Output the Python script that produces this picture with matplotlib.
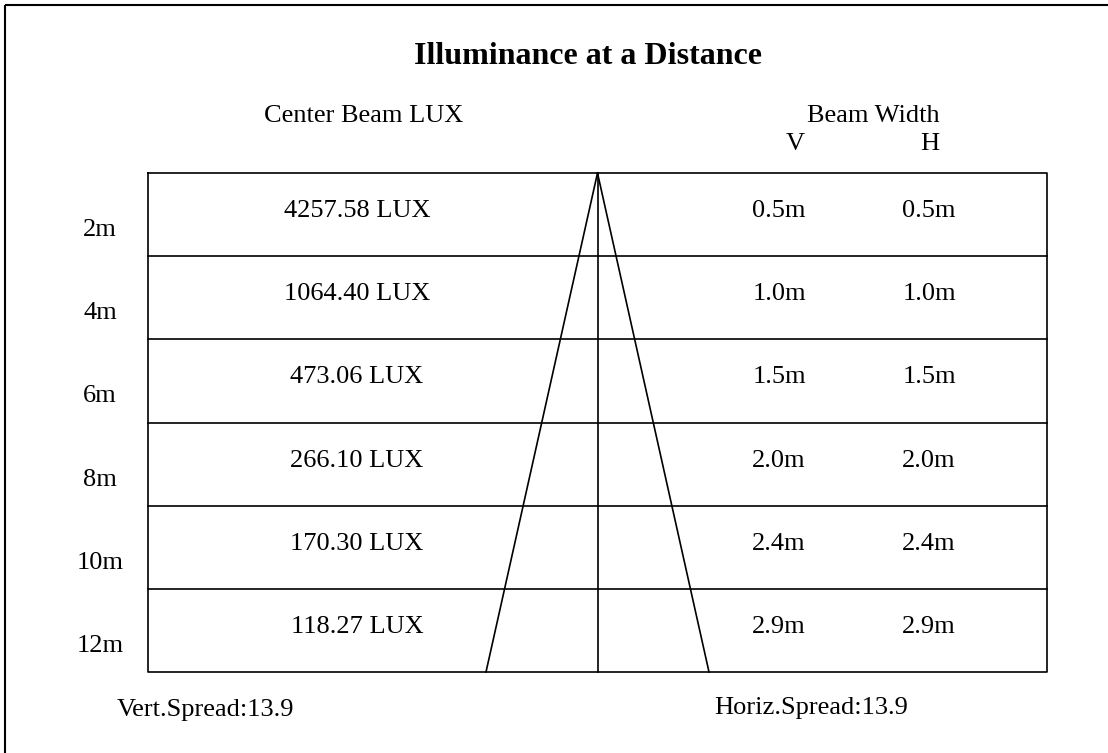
import matplotlib
matplotlib.use("Agg")
import matplotlib.pyplot as plt

# ---- data ----
title = "Illuminance at a Distance"
distances = ["2m", "4m", "6m", "8m", "10m", "12m"]
lux = [4257.58, 1064.40, 473.06, 266.10, 170.30, 118.27]
width_v = [0.5, 1.0, 1.5, 2.0, 2.4, 2.9]
width_h = [0.5, 1.0, 1.5, 2.0, 2.4, 2.9]
vert_spread = 13.9
horiz_spread = 13.9

# ---- layout (pixel coordinates) ----
W, H = 1108, 753
fig = plt.figure(figsize=(W / 100, H / 100), dpi=100)
ax = fig.add_axes([0, 0, 1, 1])
ax.set_xlim(0, W)
ax.set_ylim(H, 0)
ax.axis("off")

FONT = "Liberation Serif"
fs = 19
lw = 1.2

# outer border (left and top visible)
ax.plot([5, 5], [5, H + 5], color="black", lw=1.5, solid_capstyle="butt")
ax.plot([5, W + 5], [5, 5], color="black", lw=1.5, solid_capstyle="butt")

# title and headers
ax.text(588, 64, title, ha="center", va="baseline", fontsize=23,
        fontweight="bold", family=FONT)
ax.text(364, 122, "Center Beam LUX", ha="center", va="baseline", fontsize=fs, family=FONT)
ax.text(873, 122, "Beam Width", ha="center", va="baseline", fontsize=fs, family=FONT)
ax.text(795, 150, "V", ha="center", va="baseline", fontsize=fs, family=FONT)
ax.text(930, 150, "H", ha="center", va="baseline", fontsize=fs, family=FONT)

# table
x0, x1 = 148, 1047
y0, y1 = 173, 672
n = len(distances)
rh = (y1 - y0) / n
ax.plot([x0, x1, x1, x0, x0], [y0, y0, y1, y1, y0], color="black", lw=lw)
for i in range(1, n):
    y = y0 + i * rh
    ax.plot([x0, x1], [y, y], color="black", lw=lw)

# beam cone
cx = 597.5
half_bottom = 111.5
ax.plot([cx, cx], [y0, y1], color="black", lw=lw)
ax.plot([cx, cx - half_bottom], [y0, y1], color="black", lw=lw)
ax.plot([cx, cx + half_bottom], [y0, y1], color="black", lw=lw)

# rows
for i, (d, l, v, h) in enumerate(zip(distances, lux, width_v, width_h)):
    top = y0 + i * rh
    ax.text(357, top + 44, f"{l:.2f} LUX", ha="center", va="baseline", fontsize=fs, family=FONT)
    ax.text(779, top + 44, f"{v:.1f}m", ha="center", va="baseline", fontsize=fs, family=FONT)
    ax.text(929, top + 44, f"{h:.1f}m", ha="center", va="baseline", fontsize=fs, family=FONT)
    ax.text(100, top + 63, d, ha="center", va="baseline", fontsize=fs, family=FONT)

# footer
ax.text(205, 716, f"Vert.Spread:{vert_spread}", ha="center", va="baseline", fontsize=fs, family=FONT)
ax.text(811, 714, f"Horiz.Spread:{horiz_spread}", ha="center", va="baseline", fontsize=fs, family=FONT)

fig.savefig("out.png", dpi=100)
